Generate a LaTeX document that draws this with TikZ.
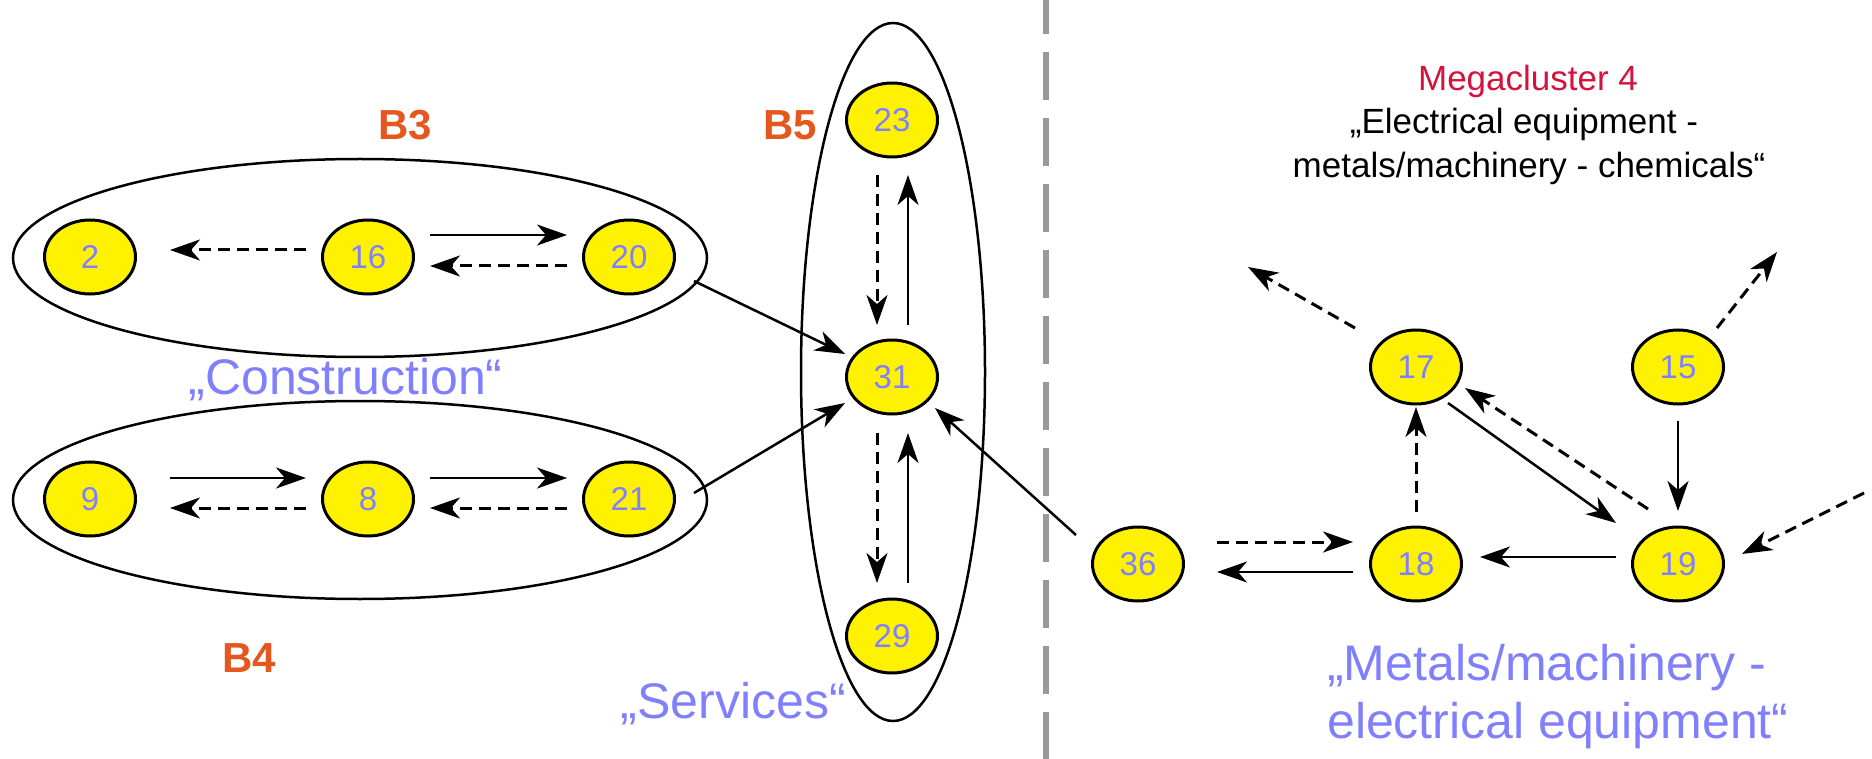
\documentclass[tikz,border=0pt]{standalone}
\usepackage{fontspec}
\setmainfont{Liberation Sans}
\usetikzlibrary{shapes.geometric,arrows.meta,calc}
\definecolor{numc}{RGB}{128,128,255}
\definecolor{orng}{RGB}{228,87,30}
\definecolor{megred}{RGB}{212,18,60}
\definecolor{sepgray}{RGB}{153,153,153}
\tikzset{
  nd/.style={ellipse, draw, line width=3pt, fill=yellow, text=numc,
    font=\fontsize{33}{33}\selectfont, minimum width=91pt, minimum height=74pt, inner sep=0pt},
  grp/.style={ellipse, draw, line width=2.5pt, inner sep=0pt},
  sol/.style={line width=2.5pt, -{Stealth[length=30pt,width=21pt,inset=9pt]}},
  dsh/.style={sol, line width=3pt, dash pattern=on 12pt off 7pt},
  blab/.style={text=orng, font=\bfseries\fontsize{42}{42}\selectfont, inner sep=0pt, anchor=base},
  bluelab/.style={text=numc, font=\fontsize{50}{50}\selectfont, inner sep=0pt, anchor=base},
  megtxt/.style={font=\fontsize{35}{35}\selectfont, inner sep=0pt, anchor=base},
}
\begin{document}
\begin{tikzpicture}[x=1pt,y=-1pt]
\useasboundingbox (0,0) rectangle (1872,759);
% group ellipses
\node[grp, minimum width=694pt, minimum height=198pt] (B3) at (360,258) {};
\node[grp, minimum width=694pt, minimum height=198pt] (B4) at (360,500) {};
\node[grp, minimum width=184pt, minimum height=698pt] (B5) at (893,372) {};
% separator
\coordinate (septop) at (1046,0);
\coordinate (sepbot) at (1046,759);
\draw[sepgray, line width=6pt, dash pattern=on 48pt off 18pt, dash phase=14pt] (septop) -- (sepbot);
% nodes
\node[nd] (n2) at (90,257) {2};
\node[nd] (n16) at (368,257) {16};
\node[nd] (n20) at (629,257) {20};
\node[nd] (n9) at (90,499) {9};
\node[nd] (n8) at (368,499) {8};
\node[nd] (n21) at (629,499) {21};
\node[nd] (n23) at (892,120) {23};
\node[nd] (n31) at (892,377) {31};
\node[nd] (n29) at (892,636) {29};
\node[nd] (n17) at (1416,367) {17};
\node[nd] (n15) at (1678,367) {15};
\node[nd] (n36) at (1138,564) {36};
\node[nd] (n18) at (1416,564) {18};
\node[nd] (n19) at (1678,564) {19};
\coordinate (e1) at (1864,493);
\coordinate (e2) at (1248,267);
\coordinate (e3) at (1777,252);
% labels
\node[blab] (lB3) at (405,140) {B3};
\node[blab] (lB4) at (249.5,672) {B4};
\node[blab] (lB5) at (790,140) {B5};
\node[bluelab] (lcon) at (345.5,395) {„Construction“};
\node[bluelab] (lser) at (733.5,718) {„Services“};
\node[bluelab, anchor=base west] (lmm1) at (1327,680) {„Metals/machinery -};
\node[bluelab, anchor=base west] (lmm2) at (1327,738) {electrical equipment“};
\node[megtxt, text=megred] (mc1) at (1528,91) {Megacluster 4};
\node[megtxt] (mc2) at (1524,134) {„Electrical equipment -};
\node[megtxt] (mc3) at (1529,178) {metals/machinery - chemicals“};
% B3 arrows
\draw[sol] ($(n16)+(62,-22)$) -- ($(n20)+(-62,-22)$);
\draw[dsh] ($(n20)+(-62,9)$) -- ($(n16)+(62,9)$);
\draw[dsh] ($(n16)+(-62,-7)$) -- ($(n2)+(80,-7)$);
% B4 arrows
\draw[sol] ($(n9)+(80,-21)$) -- ($(n8)+(-62,-21)$);
\draw[dsh] ($(n8)+(-62,9)$) -- ($(n9)+(80,9)$);
\draw[sol] ($(n8)+(62,-21)$) -- ($(n21)+(-62,-21)$);
\draw[dsh] ($(n21)+(-62,9)$) -- ($(n8)+(62,9)$);
% to 31
\draw[sol] ($(n20)+(65,24)$) -- ($(n31)+(-47,-23)$);
\draw[sol] ($(n21)+(65,-6)$) -- ($(n31)+(-47,26)$);
% B5 arrows
\draw[dsh] ($(n23)+(-15,55)$) -- ($(n31)+(-15,-52)$);
\draw[sol] ($(n31)+(16,-52)$) -- ($(n23)+(16,55)$);
\draw[dsh] ($(n31)+(-15,56)$) -- ($(n29)+(-15,-53)$);
\draw[sol] ($(n29)+(16,-53)$) -- ($(n31)+(16,56)$);
% right part
\draw[sol] ($(n36)+(-62,-29)$) -- ($(n31)+(43,31)$);
\draw[dsh] ($(n36)+(79,-22)$) -- ($(n18)+(-63,-22)$);
\draw[sol] ($(n18)+(-63,8)$) -- ($(n36)+(79,8)$);
\draw[sol] ($(n19)+(-62,-7)$) -- ($(n18)+(64,-7)$);
\draw[dsh] ($(n18)+(0,-52)$) -- ($(n17)+(0,40)$);
\draw[sol] ($(n17)+(32,36)$) -- ($(n19)+(-62,-41)$);
\draw[dsh] ($(n19)+(-30,-55)$) -- ($(n17)+(49,21)$);
\draw[sol] ($(n15)+(0,54)$) -- ($(n19)+(0,-53)$);
\draw[dsh] (e1) -- ($(n19)+(64,-10)$);
\draw[dsh] ($(n17)+(-61,-39)$) -- (e2);
\draw[dsh] ($(n15)+(39,-39)$) -- (e3);
\end{tikzpicture}
\end{document}
